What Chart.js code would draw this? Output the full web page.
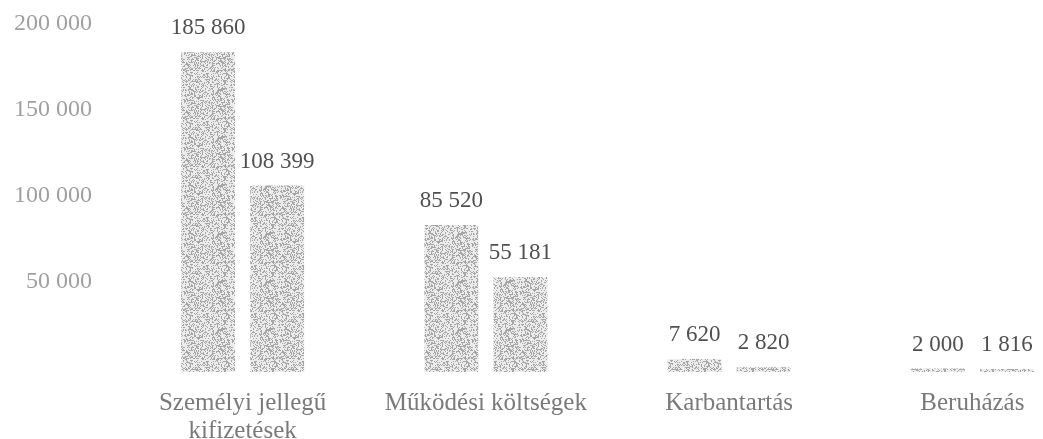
<!DOCTYPE html>
<html>
<head>
<meta charset="utf-8">
<script src="https://cdn.jsdelivr.net/npm/chart.js@4.4.1/dist/chart.umd.min.js"></script>
<style>
  html, body { margin: 0; padding: 0; background: #fff; overflow: hidden; }
  #wrap { width: 1094px; height: 439px; position: relative; }
</style>
</head>
<body>
<div id="wrap"><canvas id="c"></canvas></div>
<script>
const categories = [["Személyi jellegű", "kifizetések"], "Működési költségek", "Karbantartás", "Beruházás"];
const seriesA = [185860, 85520, 7620, 2000];
const seriesB = [108399, 55181, 2820, 1816];
const yTicks = [0, 50000, 100000, 150000, 200000];

function fmt(v) {
  return String(Math.round(v)).replace(/\B(?=(\d{3})+(?!\d))/g, " ");
}

function stipple(base, dot) {
  const c = document.createElement('canvas');
  c.width = 48; c.height = 48;
  const g = c.getContext('2d');
  g.fillStyle = base; g.fillRect(0, 0, 48, 48);
  g.fillStyle = dot;
  let s = 12345;
  for (let y = 0; y < 48; y++) {
    for (let x = 0; x < 48; x++) {
      s = (s * 1103515245 + 12345) & 0x7fffffff;
      if ((s >> 16) % 100 < 40) g.fillRect(x, y, 1, 1);
    }
  }
  return g.createPattern(c, 'repeat');
}
const pat = stipple('#ececec', '#a6a6a6');

const labelPlugin = {
  id: 'valueLabels',
  afterDatasetsDraw(chart) {
    const ctx = chart.ctx;
    ctx.save();
    ctx.font = '23px "Liberation Serif", "DejaVu Serif", serif';
    ctx.fillStyle = '#505050';
    ctx.textAlign = 'center';
    ctx.textBaseline = 'middle';
    chart.data.datasets.forEach((ds, i) => {
      chart.getDatasetMeta(i).data.forEach((bar, j) => {
        ctx.fillText(fmt(ds.data[j]), bar.x, bar.y - 24);
      });
    });
    ctx.restore();
  }
};

new Chart(document.getElementById('c'), {
  type: 'bar',
  data: {
    labels: categories,
    datasets: [
      { label: 'A', data: seriesA, backgroundColor: pat, borderWidth: 0 },
      { label: 'B', data: seriesB, backgroundColor: pat, borderWidth: 0 }
    ]
  },
  options: {
    responsive: true,
    maintainAspectRatio: false,
    animation: false,
    layout: { padding: { top: 28, right: 0, left: 0, bottom: 0 } },
    datasets: { bar: { categoryPercentage: 0.568, barPercentage: 0.78 } },
    plugins: { legend: { display: false }, tooltip: { enabled: false } },
    scales: {
      x: {
        grid: { display: false },
        border: { display: false },
        ticks: {
          color: '#7a7a7a',
          font: { family: '"Liberation Serif", "DejaVu Serif", serif', size: 25, lineHeight: 1.12 },
          padding: 9,
          maxRotation: 0,
          autoSkip: false
        },
        afterFit(s) { s.height = 67; s.paddingLeft = 0; s.paddingRight = 0; }
      },
      y: {
        min: 0,
        max: 200000,
        grid: { display: false },
        border: { display: false },
        afterBuildTicks(s) { s.ticks = yTicks.map(v => ({ value: v })); },
        ticks: {
          color: '#a0a0a0',
          font: { family: '"Liberation Serif", "DejaVu Serif", serif', size: 24 },
          padding: 21,
          labelOffset: -4,
          callback: v => v === 0 ? '' : fmt(v)
        },
        afterFit(s) { s.width = 121; s.paddingTop = 0; s.paddingBottom = 0; }
      }
    }
  },
  plugins: [labelPlugin]
});
</script>
</body>
</html>
